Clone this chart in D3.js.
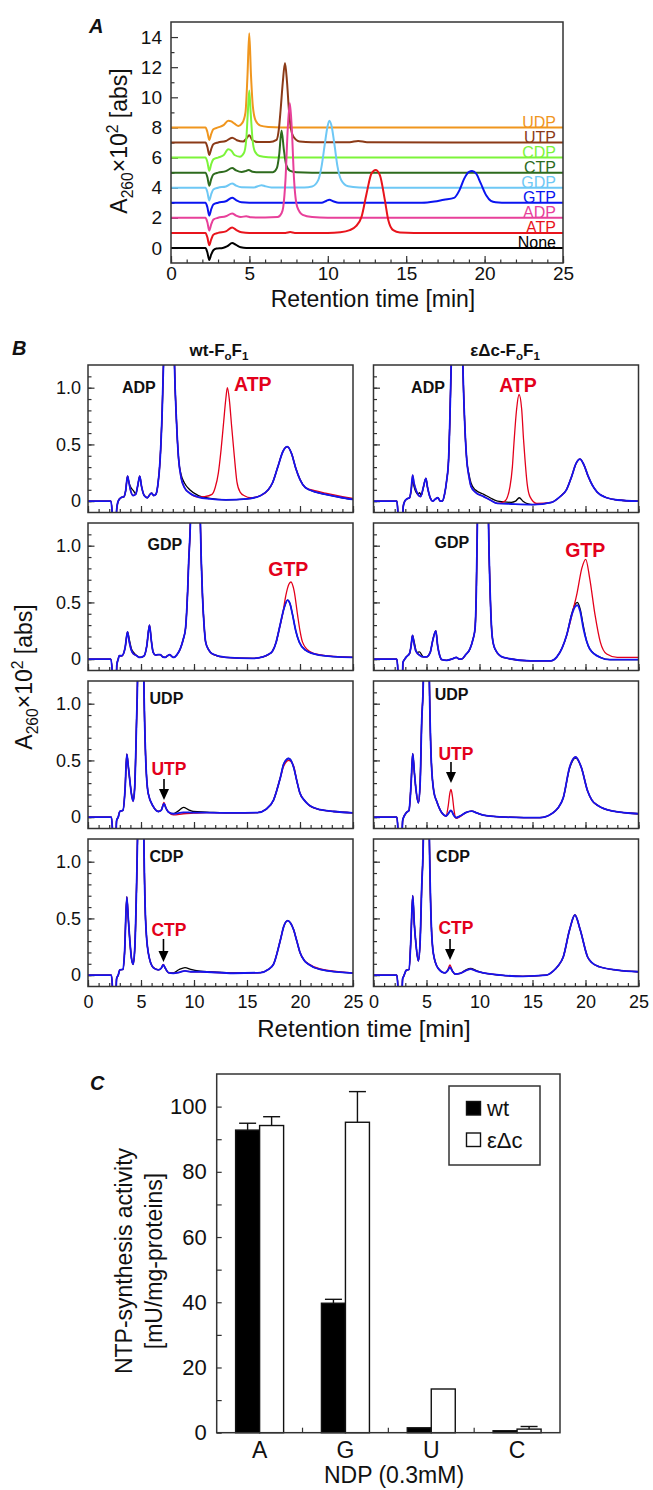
<!DOCTYPE html>
<html lang="en">
<head>
    <meta charset="UTF-8">
    <title>NTP synthesis</title>
    <script src="https://cdn.jsdelivr.net/npm/d3@7"></script>
    <style>
        body { margin: 0; background: #fff; }
        svg { font-family: 'Liberation Sans', Arial, sans-serif; }
    </style>
</head>
<body>
<script>
    const [width, height] = [653, 1490]
    const font = "'Liberation Sans', Arial, sans-serif"
    const ink = '#111'

    // ---------- panel A : reference chromatograms (value above own baseline) ----------
    const namesA = ['None', 'ATP', 'ADP', 'GTP', 'GDP', 'CTP', 'CDP', 'UTP', 'UDP']
    const offsetsA = [0, 1, 2, 3, 4, 5, 6, 7, 8]
    const colorsA = ['#000000', '#e8141c', '#e8409a', '#0a14f0', '#6ec8f5', '#2e6b1e', '#7cf43a', '#8b3a17', '#f0961e']
    const noneA = [[0,0],[2.2,0],[2.32,-0.3],[2.44,-0.8],[2.56,-0.45],[2.7,-0.15],[2.9,-0.04],[3.3,0],[3.6,0.12],[3.9,0.33],[4.15,0.2],[4.45,0.04],[4.8,0],[25,0]]
    const atpA = [[0,0],[2.2,0],[2.32,-0.3],[2.44,-0.82],[2.56,-0.45],[2.7,-0.12],[3.0,0],[3.5,0.1],[3.9,0.36],[4.15,0.2],[4.5,0.04],[5,0],[7.3,0],[7.6,0.05],[7.9,0],[10,0],[10.8,0.04],[11.4,0.18],[11.8,0.45],[12.15,1.06],[12.47,2.6],[12.79,3.95],[13.05,4.17],[13.32,3.84],[13.64,2.17],[13.86,0.84],[14.17,0.18],[14.6,0.03],[15.5,0],[25,0]]
    const adpA = [[0,0],[2.2,0],[2.32,-0.3],[2.44,-0.85],[2.56,-0.45],[2.7,-0.12],[3.0,0],[3.5,0.1],[3.9,0.29],[4.15,0.15],[4.45,0.05],[4.8,0.11],[5.1,0.03],[6.0,0.02],[6.8,0.05],[7.05,0.3],[7.16,0.73],[7.3,2.5],[7.45,6.0],[7.58,7.6],[7.7,6.0],[7.85,2.5],[8.05,0.73],[8.4,0.2],[9.0,0.05],[10,0],[25,0]]
    const gtpA = [[0,0],[2.2,0],[2.32,-0.3],[2.44,-0.85],[2.56,-0.45],[2.7,-0.12],[3.0,0],[3.5,0.1],[3.9,0.33],[4.15,0.18],[4.5,0.03],[5,0],[9.6,0],[9.9,0.12],[10.1,0.2],[10.35,0.1],[10.7,0],[16,0],[16.8,0.08],[17.4,0.2],[18.05,0.32],[18.4,0.84],[18.7,1.6],[19.0,2.05],[19.2,2.1],[19.45,1.95],[19.75,1.3],[20.1,0.5],[20.4,0.13],[20.7,0.04],[21.5,0],[25,0]]
    const gdpA = [[0,0],[2.2,0],[2.32,-0.3],[2.44,-0.85],[2.56,-0.45],[2.7,-0.12],[3.0,0],[3.5,0.08],[3.9,0.28],[4.15,0.14],[4.5,0.03],[5.3,0.02],[5.6,0.12],[5.78,0.17],[6.0,0.1],[6.4,0.02],[8.5,0.02],[9.0,0.08],[9.39,0.5],[9.6,1.4],[9.81,2.9],[9.98,4.05],[10.1,4.45],[10.25,4.05],[10.42,2.9],[10.62,1.4],[10.86,0.5],[11.3,0.1],[12,0.02],[13,0],[25,0]]
    const ctpA = [[0,0],[2.2,0],[2.32,-0.3],[2.44,-0.87],[2.56,-0.45],[2.7,-0.12],[3.0,0],[3.5,0.1],[3.9,0.3],[4.15,0.15],[4.5,0.04],[4.75,0.1],[4.95,0.18],[5.2,0.06],[5.6,0.02],[6.5,0.03],[6.75,0.3],[6.9,1.2],[7.05,2.8],[7.2,1.5],[7.35,0.5],[7.6,0.12],[8.0,0.03],[9,0],[25,0]]
    const cdpA = [[0,0],[2.2,0],[2.32,-0.3],[2.44,-0.88],[2.56,-0.45],[2.7,-0.12],[3.0,0],[3.35,0.15],[3.65,0.55],[3.85,0.45],[4.05,0.17],[4.4,0.06],[4.65,0.3],[4.8,1.2],[4.9,3.0],[4.99,4.45],[5.08,3.0],[5.2,1.2],[5.35,0.4],[5.65,0.1],[6.2,0.02],[7,0],[25,0]]
    const utpA = [[0,0],[2.2,0],[2.32,-0.3],[2.44,-0.83],[2.56,-0.45],[2.7,-0.12],[3.0,0],[3.5,0.1],[3.9,0.32],[4.2,0.15],[4.6,0.06],[4.8,0.25],[4.99,0.48],[5.2,0.15],[5.55,0.03],[6.3,0.03],[6.73,0.17],[6.88,0.9],[6.99,2.16],[7.13,4.0],[7.27,5.27],[7.4,4.0],[7.52,2.16],[7.65,0.9],[7.8,0.4],[8.2,0.07],[9,0.02],[11.4,0.02],[11.94,0.1],[12.5,0.02],[25,0]]
    const udpA = [[0,0],[2.2,0],[2.32,-0.3],[2.44,-0.83],[2.56,-0.45],[2.7,-0.12],[3.0,0],[3.35,0.15],[3.65,0.45],[3.85,0.4],[4.05,0.25],[4.3,0.1],[4.55,0.3],[4.75,1.0],[4.88,3.5],[4.99,6.26],[5.1,3.5],[5.22,1.4],[5.4,0.45],[5.7,0.12],[6.2,0.03],[7,0],[25,0]]
    const tracesA = [noneA, atpA, adpA, gtpA, gdpA, ctpA, cdpA, utpA, udpA]

    // ---------- panel B : blue trace, black / red differ only in the listed stretches ----------
    const adpWtBlue = [[0,0],[2.15,0],[2.28,-0.1],[2.36,-0.4],[2.6,-0.4],[2.7,-0.08],[2.85,0],[3.1,0.03],[3.4,0.04],[3.55,0.09],[3.73,0.22],[3.85,0.17],[4.0,0.1],[4.25,0.05],[4.5,0.06],[4.7,0.14],[4.88,0.22],[5.05,0.13],[5.3,0.05],[5.6,0.03],[5.85,0.06],[6.0,0.07],[6.2,0.05],[6.4,0.06],[6.6,0.15],[6.8,0.36],[7.0,0.8],[7.12,1.2],[7.35,2.5],[7.65,3.5],[7.95,2.5],[8.16,1.2],[8.35,0.7],[8.55,0.37],[8.8,0.2],[9.1,0.12],[9.6,0.07],[10.4,0.036],[11.5,0.02],[13,0.012],[15,0.02],[16.3,0.05],[17.0,0.1],[17.4,0.16],[17.9,0.3],[18.4,0.44],[18.8,0.48],[19.2,0.42],[19.6,0.29],[20.0,0.19],[20.5,0.12],[21.5,0.08],[22.4,0.06],[24,0.03],[25,0.015]]
    const adpWtBlack = [[[3.85,0.17],[4.05,0.12],[4.3,0.09],[4.5,0.065]], [[8.8,0.23],[9.1,0.16],[9.6,0.1],[10.4,0.05],[11.5,0.025]]]
    const adpWtRed = [[[10.4,0.036],[11.0,0.04],[11.7,0.06],[12.0,0.12],[12.3,0.25],[12.55,0.45],[12.8,0.7],[13.0,0.9],[13.15,1.0],[13.35,0.88],[13.55,0.66],[13.8,0.4],[14.05,0.17],[14.35,0.08],[14.8,0.045],[15.3,0.03]], [[21.5,0.09],[22.4,0.07],[24,0.04],[25,0.025]]]

    const adpEdcBlue = [[0,0],[2.2,0],[2.3,-0.1],[2.38,-0.4],[2.7,-0.4],[2.8,-0.05],[2.95,0],[3.15,0.02],[3.4,0.03],[3.55,0.1],[3.69,0.23],[3.82,0.16],[4.0,0.1],[4.25,0.05],[4.45,0.04],[4.7,0.12],[4.94,0.2],[5.1,0.12],[5.35,0.03],[5.6,0.0],[5.85,0.02],[6.07,0.03],[6.3,0.0],[6.5,0.0],[6.7,0.06],[6.9,0.18],[7.08,0.36],[7.2,0.7],[7.33,1.2],[7.6,2.5],[7.9,3.5],[8.2,2.5],[8.43,1.2],[8.6,0.7],[8.8,0.36],[9.0,0.22],[9.2,0.13],[9.6,0.08],[10.4,0.04],[11.0,0.01],[11.7,-0.02],[13,-0.025],[15,-0.03],[16.8,-0.01],[17.6,0.04],[18.2,0.1],[18.7,0.22],[19.1,0.33],[19.48,0.37],[19.85,0.32],[20.25,0.22],[20.65,0.14],[21.1,0.08],[22,0.03],[23,0.01],[25,0.0]]
    const adpEdcBlack = [[[3.55,0.09],[3.69,0.19],[3.82,0.13],[4.0,0.08],[4.2,0.06],[4.35,0.076],[4.5,0.05],[4.7,0.12]], [[9.0,0.24],[9.2,0.16],[9.6,0.1],[10.4,0.06],[11.0,0.03],[11.7,0.0],[13,-0.01],[13.4,0.0],[13.75,0.03],[14.1,0.0],[14.6,-0.025],[15,-0.03]]]
    const adpEdcRed = [[[11.7,-0.02],[12.4,0.0],[12.88,0.13],[13.1,0.3],[13.25,0.51],[13.5,0.81],[13.73,0.94],[13.98,0.81],[14.15,0.55],[14.29,0.37],[14.5,0.15],[14.76,0.04],[15.4,-0.02]]]

    const gdpWtBlue = [[0,0],[2.15,0],[2.28,-0.1],[2.36,-0.4],[2.6,-0.4],[2.72,-0.05],[2.85,0],[2.95,0.03],[3.2,0.03],[3.5,0.1],[3.73,0.24],[3.88,0.16],[4.05,0.09],[4.25,0.05],[4.6,0.03],[4.9,0.015],[5.3,0.03],[5.55,0.12],[5.8,0.3],[5.98,0.16],[6.15,0.06],[6.37,0.036],[6.6,0.04],[6.8,0.04],[7.05,0.02],[7.3,0.015],[7.5,0.03],[7.7,0.04],[7.9,0.025],[8.1,0.015],[8.4,0.04],[8.7,0.09],[9.0,0.18],[9.2,0.27],[9.4,0.6],[9.5,0.86],[9.66,1.2],[9.9,2.5],[10.15,3.5],[10.4,2.5],[10.6,1.2],[10.8,0.56],[10.95,0.3],[11.1,0.15],[11.4,0.08],[11.76,0.045],[13.0,0.015],[15.5,0.006],[16.5,0.02],[17.0,0.04],[17.4,0.07],[17.75,0.15],[18.05,0.27],[18.5,0.45],[18.82,0.52],[19.05,0.49],[19.3,0.39],[19.6,0.25],[19.93,0.15],[20.5,0.08],[21.8,0.036],[25,0.015]]
    const gdpWtBlack = [[[3.88,0.18],[4.1,0.09],[4.3,0.06],[4.6,0.03]]]
    const gdpWtRed = [[[18.05,0.27],[18.35,0.39],[18.66,0.56],[18.95,0.66],[19.14,0.68],[19.45,0.6],[19.77,0.39],[20.0,0.25],[20.24,0.15],[20.88,0.07],[21.8,0.04]]]

    const gdpEdcBlue = [[0,0],[2.2,0],[2.3,-0.1],[2.38,-0.4],[2.67,-0.4],[2.78,-0.03],[2.95,0.0],[3.1,0.02],[3.4,0.05],[3.55,0.12],[3.68,0.21],[3.82,0.14],[4.0,0.07],[4.35,0.035],[4.7,0.02],[5.0,0.02],[5.35,0.06],[5.6,0.17],[5.88,0.25],[6.05,0.12],[6.25,0.03],[6.45,-0.005],[6.9,-0.01],[7.5,0.005],[7.8,0.015],[8.1,0.0],[8.3,0.0],[8.7,0.04],[9.1,0.09],[9.4,0.18],[9.58,0.27],[9.7,0.6],[9.8,1.2],[10.1,2.5],[10.4,3.5],[10.7,2.5],[10.85,1.2],[11.0,0.6],[11.2,0.2],[11.46,0.09],[12.25,0.015],[14.8,-0.015],[16.7,-0.015],[17.3,0.02],[17.8,0.1],[18.22,0.21],[18.7,0.39],[19.0,0.46],[19.23,0.475],[19.5,0.42],[19.8,0.27],[20.1,0.16],[20.4,0.09],[21.4,0.015],[22.3,-0.005],[25,-0.005]]
    const gdpEdcBlack = [[[3.82,0.16],[4.1,0.06],[4.35,0.065],[4.6,0.03]], [[18.7,0.4],[19.0,0.48],[19.23,0.5],[19.5,0.44],[19.8,0.29]]]
    const gdpEdcRed = [[[18.22,0.21],[18.54,0.32],[18.9,0.46],[19.2,0.58],[19.65,0.8],[20.02,0.88],[20.4,0.71],[20.9,0.39],[21.4,0.15],[22.0,0.045],[23.0,0.015],[25,0.015]]]

    const udpWtBlue = [[0,0],[2.2,0],[2.3,-0.1],[2.36,-0.4],[2.55,-0.4],[2.7,-0.03],[2.85,0],[3.0,0.05],[3.3,0.06],[3.5,0.25],[3.66,0.555],[3.8,0.45],[3.95,0.32],[4.1,0.2],[4.26,0.14],[4.4,0.25],[4.58,0.84],[4.67,1.2],[4.8,2.5],[4.96,3.5],[5.12,2.5],[5.27,1.2],[5.43,0.55],[5.68,0.21],[6.15,0.095],[6.63,0.05],[6.9,0.06],[7.17,0.12],[7.35,0.08],[7.58,0.046],[8.05,0.03],[9.0,0.043],[9.94,0.04],[11.2,0.04],[13.7,0.037],[16.0,0.04],[16.8,0.07],[17.5,0.15],[18.15,0.35],[18.47,0.47],[18.94,0.517],[19.4,0.44],[19.7,0.32],[20.0,0.21],[20.4,0.15],[20.8,0.11],[21.9,0.066],[23.2,0.05],[25,0.037]]
    const udpWtBlack = [[[4.1,0.21],[4.26,0.15],[4.4,0.26]], [[8.05,0.03],[8.6,0.06],[9.0,0.086],[9.5,0.065],[9.94,0.05],[11.2,0.045]]]
    const udpWtRed = [[[6.9,0.06],[7.17,0.13],[7.35,0.08]], [[8.05,0.02],[9.0,0.03],[9.94,0.035]], [[18.47,0.45],[18.94,0.5],[19.4,0.45]]]

    const udpEdcBlue = [[0,0],[2.2,0],[2.3,-0.1],[2.38,-0.4],[2.6,-0.4],[2.75,-0.03],[2.85,0.0],[3.1,0.04],[3.35,0.06],[3.55,0.3],[3.7,0.56],[3.85,0.4],[4.0,0.25],[4.23,0.126],[4.4,0.3],[4.55,0.85],[4.7,1.2],[4.85,2.5],[4.96,3.5],[5.1,2.5],[5.27,1.2],[5.45,0.5],[5.7,0.22],[5.96,0.14],[6.43,0.04],[6.84,0.01],[7.05,0.03],[7.31,0.06],[7.55,0.02],[7.78,-0.005],[8.16,0.01],[8.7,0.04],[9.25,0.053],[9.8,0.035],[10.35,0.018],[12.5,0.0],[15.7,-0.005],[16.8,0.03],[17.4,0.08],[17.9,0.17],[18.5,0.44],[19.07,0.53],[19.6,0.44],[20.2,0.23],[20.6,0.15],[21.2,0.1],[22.6,0.053],[25,0.03]]
    const udpEdcBlack = [[[18.5,0.43],[19.07,0.52],[19.6,0.44]]]
    const udpEdcRed = [[[6.84,0.01],[7.05,0.1],[7.2,0.21],[7.31,0.245],[7.45,0.18],[7.6,0.06],[7.78,-0.01],[8.16,0.005]]]

    const cdpWtBlue = [[0,0],[2.2,0],[2.3,-0.1],[2.36,-0.4],[2.55,-0.4],[2.7,-0.03],[2.85,0],[3.0,0.047],[3.3,0.05],[3.45,0.2],[3.66,0.69],[3.8,0.5],[3.95,0.3],[4.1,0.15],[4.26,0.096],[4.42,0.25],[4.58,0.78],[4.67,1.2],[4.8,2.5],[4.96,3.5],[5.12,2.5],[5.27,1.2],[5.43,0.49],[5.68,0.2],[6.15,0.067],[6.63,0.047],[6.9,0.06],[7.1,0.09],[7.3,0.06],[7.58,0.023],[8.05,0.017],[8.6,0.025],[9.15,0.038],[9.7,0.03],[10.6,0.03],[13.7,0.017],[16.3,0.023],[17.0,0.05],[17.5,0.096],[18.15,0.31],[18.47,0.43],[18.85,0.48],[19.1,0.46],[19.4,0.4],[19.7,0.3],[20.0,0.2],[20.4,0.13],[20.8,0.096],[21.9,0.05],[25,0.017]]
    const cdpWtBlack = [[[8.05,0.02],[8.6,0.05],[9.15,0.067],[9.7,0.05],[10.6,0.035],[11.5,0.03],[13.7,0.02]]]
    const cdpWtRed = [[[6.9,0.06],[7.1,0.095],[7.3,0.06]], [[20.8,0.1],[21.9,0.055],[25,0.02]]]

    const cdpEdcBlue = [[0,0],[2.2,0],[2.3,-0.1],[2.38,-0.4],[2.6,-0.4],[2.75,-0.03],[2.85,-0.01],[3.1,0.044],[3.35,0.05],[3.52,0.3],[3.7,0.7],[3.85,0.45],[4.0,0.28],[4.23,0.126],[4.4,0.3],[4.55,0.78],[4.7,1.2],[4.85,2.5],[4.96,3.5],[5.1,2.5],[5.27,1.2],[5.45,0.45],[5.65,0.19],[6.1,0.06],[6.75,0.02],[7.0,0.04],[7.21,0.07],[7.45,0.035],[7.7,0.01],[8.16,0.015],[8.7,0.04],[9.16,0.053],[9.7,0.035],[10.35,0.02],[12,0.0],[14.1,-0.01],[16.3,0.0],[17.0,0.04],[17.4,0.08],[17.9,0.16],[18.5,0.4],[19.0,0.53],[19.5,0.4],[20.2,0.16],[20.6,0.11],[21.3,0.074],[23,0.045],[25,0.03]]
    const cdpEdcBlack = [[[8.7,0.045],[9.16,0.06],[9.7,0.04]]]
    const cdpEdcRed = [[[7.0,0.045],[7.21,0.09],[7.45,0.035]]]

    const ndpNames = ['ADP', 'GDP', 'UDP', 'CDP']
    const ntpNames = ['ATP', 'GTP', 'UTP', 'CTP']

    // ---------- panel C : activity ----------
    const categoriesC = ['A', 'G', 'U', 'C']
    const seriesC = ['wt', 'εΔc']
    const wtC = [92.8, 39.7, 1.5, 0.6]
    const wtErrC = [2.1, 1.2, 0, 0]
    const edcC = [94.2, 95.2, 13.4, 1.1]
    const edcErrC = [2.7, 9.4, 0, 0.8]

    // ---------- helpers ----------
    const svg = d3.select('body').append('svg').attr('width', width).attr('height', height)

    // replace the base points inside each stretch by the stretch
    const patch = (base, ...parts) => {
        let pts = base.slice()
        parts.forEach(p => {
            const [a, b] = [p[0][0], p[p.length - 1][0]]
            pts = pts.filter(d => d[0] < a || d[0] > b).concat(p)
        })
        return pts.sort((m, n) => m[0] - n[0])
    }

    const styleAxis = (g, size) => {
        g.attr('font-family', font).attr('font-size', size)
        g.select('.domain').remove()
        g.selectAll('.tick line').attr('stroke', '#333').attr('stroke-width', 1.2)
        g.selectAll('.tick text').attr('fill', ink)
    }

    const box = (g, x, y, w, h) => g.append('rect').attr('x', x).attr('y', y).attr('width', w).attr('height', h)
        .attr('fill', 'none').attr('stroke', '#333').attr('stroke-width', 1.5)

    // text with sub / superscripts: parts = [[text, 'sub'|'sup'|null], ...]
    const rich = (g, parts, size) => {
        const t = g.append('text').attr('font-size', size).attr('fill', ink)
        let shift = 0
        parts.forEach(([s, kind]) => {
            const want = kind === 'sub' ? size * 0.25 : kind === 'sup' ? -size * 0.4 : 0
            t.append('tspan').attr('dy', want - shift).attr('font-size', kind ? size * 0.68 : size).text(s)
            shift = want
        })
        return t
    }
    const absLabel = [['A'], ['260', 'sub'], ['×10'], ['2', 'sup'], [' [abs]']]

    const panelLetter = (s, x, y) => svg.append('text').attr('x', x).attr('y', y).text(s)
        .attr('font-size', 20).attr('font-weight', 'bold').attr('font-style', 'italic').attr('fill', ink)

    // ---------- draw panel A ----------
    const xA = d3.scaleLinear().domain([0, 25]).range([171, 563])
    const yA = d3.scaleLinear().domain([-1, 15]).range([263, 22])
    const gA = svg.append('g')
    gA.append('clipPath').attr('id', 'clipA').append('rect').attr('x', 171).attr('y', 22).attr('width', 392).attr('height', 241)

    gA.append('g').attr('transform', 'translate(0,263)')
        .call(d3.axisBottom(xA).tickValues(d3.range(0, 26)).tickSize(-3.5).tickFormat('')).call(styleAxis, 19)
    gA.append('g').attr('transform', 'translate(0,263)')
        .call(d3.axisBottom(xA).tickValues(d3.range(0, 26, 5)).tickSize(-7).tickPadding(4)).call(styleAxis, 19)
    gA.append('g').attr('transform', 'translate(171,0)')
        .call(d3.axisLeft(yA).tickValues(d3.range(1, 15, 2)).tickSize(-3.5).tickFormat('')).call(styleAxis, 19)
    gA.append('g').attr('transform', 'translate(171,0)')
        .call(d3.axisLeft(yA).tickValues(d3.range(0, 15, 2)).tickSize(-7).tickPadding(9)).call(styleAxis, 19)

    const lineA = d3.line().x(d => xA(d[0])).y(d => yA(d[1])).curve(d3.curveMonotoneX)
    const ordA = d3.range(tracesA.length).reverse()
    gA.append('g').attr('clip-path', 'url(#clipA)').selectAll('path').data(ordA).join('path')
        .attr('d', i => lineA(tracesA[i].map(d => [d[0], d[1] + offsetsA[i]])))
        .attr('fill', 'none').attr('stroke', i => colorsA[i]).attr('stroke-width', 2)
    gA.append('g').selectAll('text').data(namesA).join('text')
        .attr('x', 556).attr('y', (d, i) => yA(offsetsA[i]) + 0.5)
        .attr('text-anchor', 'end').attr('font-size', 16).attr('fill', (d, i) => colorsA[i]).text(d => d)
    box(gA, 171, 22, 392, 241)
    gA.append('text').attr('x', 373).attr('y', 307).attr('text-anchor', 'middle').attr('font-size', 23)
        .attr('fill', ink).text('Retention time [min]')
    rich(gA, absLabel, 23).attr('text-anchor', 'middle').attr('transform', 'translate(127,141) rotate(-90)')
    panelLetter('A', 89, 33)

    // ---------- draw panel B ----------
    const bLeft = [88, 373.5], bW = 265, bTop = 365, bStep = 158, bH = 147.5
    const panelsB = [
        [adpWtBlue, adpWtBlack, adpWtRed], [adpEdcBlue, adpEdcBlack, adpEdcRed],
        [gdpWtBlue, gdpWtBlack, gdpWtRed], [gdpEdcBlue, gdpEdcBlack, gdpEdcRed],
        [udpWtBlue, udpWtBlack, udpWtRed], [udpEdcBlue, udpEdcBlack, udpEdcRed],
        [cdpWtBlue, cdpWtBlack, cdpWtRed], [cdpEdcBlue, cdpEdcBlack, cdpEdcRed]
    ]
    // annotation anchors in data units [t, value]
    const ndpAt = [[4.8, 0.95], [5.14, 0.95], [7.26, 0.96], [7.4, 0.98], [7.4, 1.0], [7.36, 1.03], [7.4, 1.0], [7.5, 1.0]]
    const ntpAt = [[15.55, 0.97], [13.63, 0.965], [18.9, 0.733], [19.97, 0.9], [7.64, 0.37], [7.78, 0.5], [7.64, 0.345], [7.78, 0.362]]
    const arrowAt = [null, null, null, null, [7.17, 0.336, 0.151], [7.31, 0.486, 0.3], [7.12, 0.319, 0.116], [7.22, 0.319, 0.134]]
    const fmtB = d => d === 0 ? '0' : d3.format('.1f')(d)

    panelsB.forEach(([blue, black, red], i) => {
        const row = Math.floor(i / 2), col = i % 2
        const x0 = bLeft[col], y0 = bTop + row * bStep
        const x = d3.scaleLinear().domain([0, 25]).range([x0, x0 + bW])
        const y = d3.scaleLinear().domain([-0.1, 1.2]).range([y0 + bH, y0])
        const g = svg.append('g')
        g.append('clipPath').attr('id', `clipB${i}`).append('rect').attr('x', x0).attr('y', y0).attr('width', bW).attr('height', bH)

        g.append('g').attr('transform', `translate(0,${y0 + bH})`)
            .call(d3.axisBottom(x).tickValues(d3.range(0, 26)).tickSize(-3.5).tickFormat('')).call(styleAxis, 18)
        g.append('g').attr('transform', `translate(0,${y0 + bH})`)
            .call(d3.axisBottom(x).tickValues(d3.range(0, 26, 5)).tickSize(-6.5).tickPadding(9)
                .tickFormat(row === 3 ? d3.format('d') : '')).call(styleAxis, 18)
        g.append('g').attr('transform', `translate(${x0},0)`)
            .call(d3.axisLeft(y).tickValues(d3.range(0, 12).map(k => k / 10)).tickSize(-3.5).tickFormat('')).call(styleAxis, 18)
        g.append('g').attr('transform', `translate(${x0},0)`)
            .call(d3.axisLeft(y).tickValues([0, 0.5, 1]).tickSize(-6.5).tickPadding(7)
                .tickFormat(col === 0 ? fmtB : '')).call(styleAxis, 18)

        const line = d3.line().x(d => x(d[0])).y(d => y(d[1])).curve(d3.curveMonotoneX)
        const traces = [[patch(blue, ...black), '#000000', 1.3], [patch(blue, ...red), '#e3001b', 1.3], [blue, '#1414ee', 1.8]]
        g.append('g').attr('clip-path', `url(#clipB${i})`).selectAll('path').data(traces).join('path')
            .attr('d', d => line(d[0])).attr('fill', 'none').attr('stroke', d => d[1]).attr('stroke-width', d => d[2])
        box(g, x0, y0, bW, bH)

        g.append('text').attr('x', x(ndpAt[i][0])).attr('y', y(ndpAt[i][1])).attr('text-anchor', 'middle')
            .attr('font-size', 16).attr('font-weight', 'bold').attr('fill', ink).text(ndpNames[row])
        g.append('text').attr('x', x(ntpAt[i][0])).attr('y', y(ntpAt[i][1])).attr('text-anchor', 'middle')
            .attr('font-size', row < 2 ? 19.5 : 17.5).attr('font-weight', 'bold').attr('fill', '#e3001b').text(ntpNames[row])
        const a = arrowAt[i]
        if (a) {
            const [ax, yt, yp] = [x(a[0]), y(a[1]), y(a[2])]
            g.append('line').attr('x1', ax).attr('x2', ax).attr('y1', yt).attr('y2', yp - 9)
                .attr('stroke', '#000').attr('stroke-width', 1.6)
            g.append('path').attr('d', `M${ax - 5},${yp - 11}L${ax + 5},${yp - 11}L${ax},${yp}Z`).attr('fill', '#000')
        }
    })
    const title = (parts, cx) => rich(svg, parts, 17).attr('font-weight', 'bold').attr('text-anchor', 'middle')
        .attr('transform', `translate(${cx},356)`)
    title([['wt-F'], ['o', 'sub'], ['F'], ['1', 'sub']], 219)
    title([['εΔc-F'], ['o', 'sub'], ['F'], ['1', 'sub']], 505)
    svg.append('text').attr('x', 364).attr('y', 1037).attr('text-anchor', 'middle').attr('font-size', 24)
        .attr('fill', ink).text('Retention time [min]')
    rich(svg, absLabel, 23).attr('text-anchor', 'middle').attr('transform', 'translate(32,677) rotate(-90)')
    panelLetter('B', 12, 355)

    // ---------- draw panel C ----------
    const [cL, cR, cT, cB] = [216.7, 560, 1074, 1432.7]
    const xC = d3.scaleBand().domain(categoriesC).range([cL, cR])
    const xSub = d3.scaleBand().domain(seriesC).range([-24, 24])
    const yC = d3.scaleLinear().domain([0, 110]).range([cB, cT])
    const gC = svg.append('g')

    gC.append('g').attr('transform', `translate(${cL},0)`)
        .call(d3.axisLeft(yC).tickValues(d3.range(0, 110, 10)).tickSize(-5).tickPadding(10)
            .tickFormat(d => d % 20 === 0 ? d : '')).call(styleAxis, 22)
    gC.append('g').attr('transform', `translate(0,${cB})`)
        .call(d3.axisBottom(xC).tickSize(0).tickPadding(9)).call(styleAxis, 23)
    gC.append('g').selectAll('line').data(categoriesC.slice(1)).join('line')
        .attr('x1', d => xC(d)).attr('x2', d => xC(d)).attr('y1', cB).attr('y2', cB - 5)
        .attr('stroke', '#333').attr('stroke-width', 1.2)

    const barsC = categoriesC.flatMap((c, i) => [
        {c, s: seriesC[0], v: wtC[i], e: wtErrC[i]},
        {c, s: seriesC[1], v: edcC[i], e: edcErrC[i]}
    ])
    const bx = d => xC(d.c) + xC.bandwidth() / 2 + xSub(d.s)
    const errs = barsC.filter(d => d.e > 0)
    gC.append('g').selectAll('line').data(errs).join('line')
        .attr('x1', d => bx(d) + xSub.bandwidth() / 2).attr('x2', d => bx(d) + xSub.bandwidth() / 2)
        .attr('y1', d => yC(d.v)).attr('y2', d => yC(d.v + d.e)).attr('stroke', '#111').attr('stroke-width', 1.4)
    gC.append('g').selectAll('line').data(errs).join('line')
        .attr('x1', d => bx(d) + xSub.bandwidth() / 2 - 8.5).attr('x2', d => bx(d) + xSub.bandwidth() / 2 + 8.5)
        .attr('y1', d => yC(d.v + d.e)).attr('y2', d => yC(d.v + d.e)).attr('stroke', '#111').attr('stroke-width', 1.4)
    gC.append('g').selectAll('rect').data(barsC).join('rect')
        .attr('x', bx).attr('width', xSub.bandwidth())
        .attr('y', d => yC(d.v)).attr('height', d => cB - yC(d.v))
        .attr('fill', d => d.s === 'wt' ? '#000' : '#fff').attr('stroke', '#111').attr('stroke-width', 1.4)
    box(gC, cL, cT, cR - cL, cB - cT)

    // legend
    const lg = gC.append('g')
    box(lg, 449, 1086, 91, 79)
    seriesC.forEach((s, i) => {
        lg.append('rect').attr('x', 466.5).attr('y', 1101.5 + i * 31.5).attr('width', 14).attr('height', 13.5)
            .attr('fill', i === 0 ? '#000' : '#fff').attr('stroke', '#111').attr('stroke-width', 1.4)
        lg.append('text').attr('x', 487).attr('y', 1116 + i * 32).attr('font-size', 22).attr('fill', ink).text(s)
    })

    const ylC = gC.append('text').attr('transform', 'translate(0,1261) rotate(-90)').attr('text-anchor', 'middle')
        .attr('font-size', 23).attr('fill', ink)
    ylC.append('tspan').attr('x', 0).attr('y', 131.5).text('NTP-synthesis activity')
    ylC.append('tspan').attr('x', 0).attr('y', 161.5).text('[mU/mg-proteins]')
    gC.append('text').attr('x', 394).attr('y', 1483).attr('text-anchor', 'middle').attr('font-size', 23)
        .attr('fill', ink).text('NDP (0.3mM)')
    panelLetter('C', 90, 1090)
</script>
</body>
</html>
